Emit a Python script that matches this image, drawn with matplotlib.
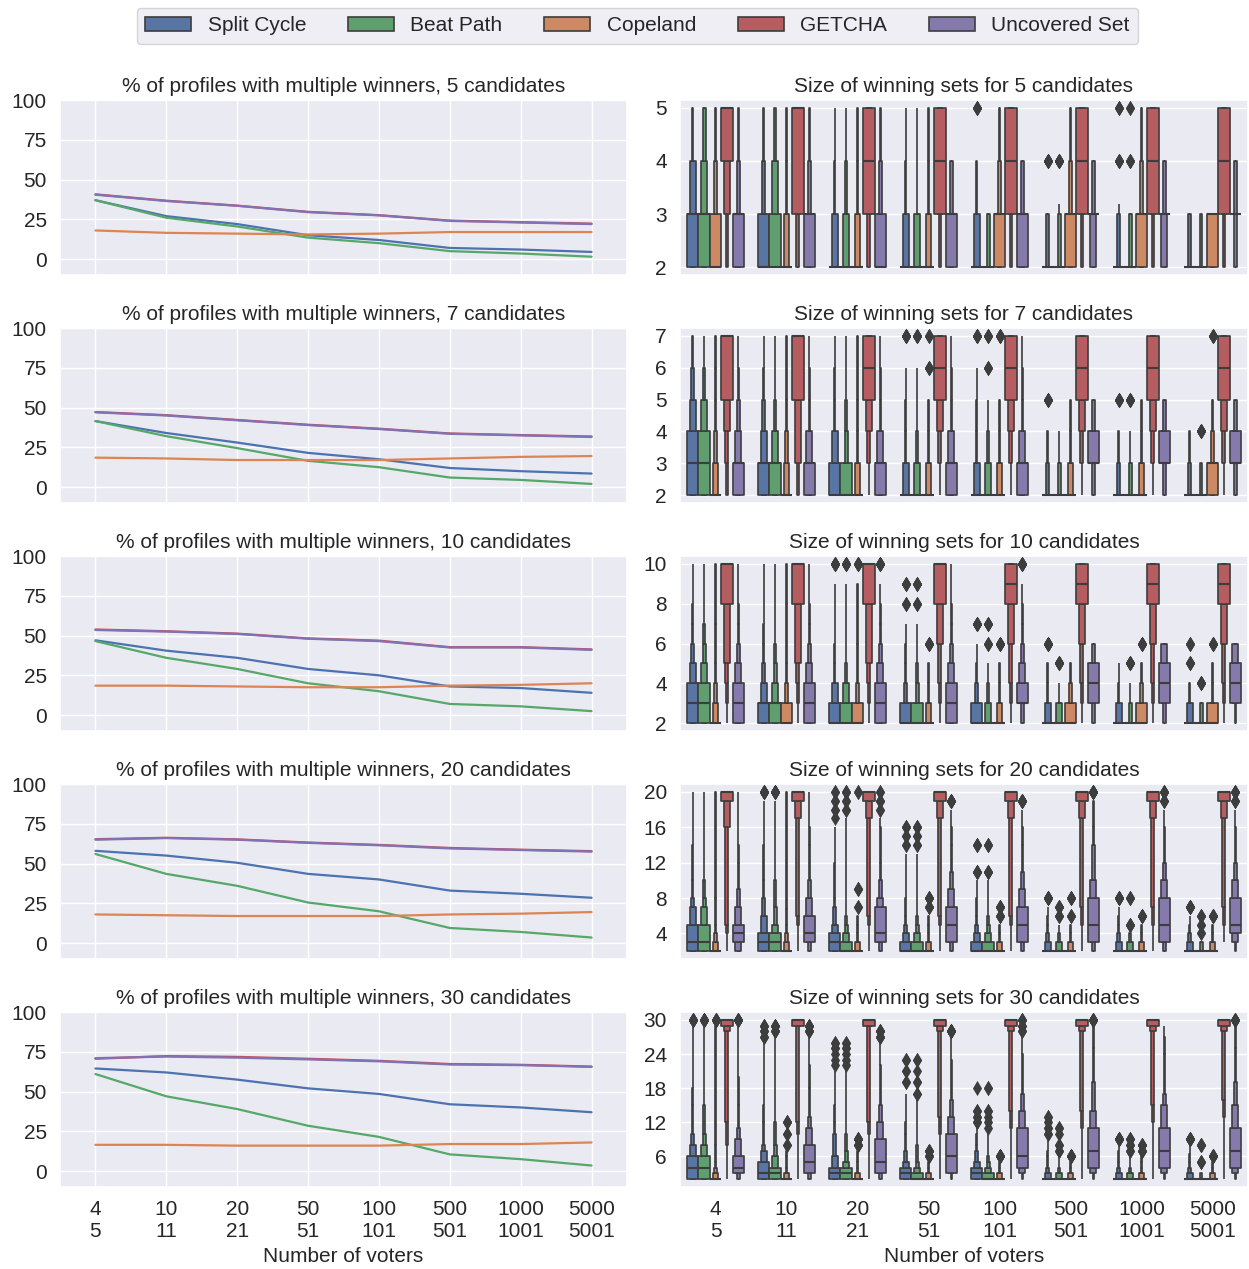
import numpy as np
import pandas as pd
import matplotlib
matplotlib.use("Agg")
import matplotlib.pyplot as plt
from matplotlib.patches import Patch
from matplotlib.collections import PatchCollection
import seaborn as sns

sns.set_theme(style="darkgrid")
plt.rcParams['font.family'] = ['Liberation Sans', 'DejaVu Sans']
plt.rcParams.update({'font.size': 15, 'axes.titlesize': 15, 'axes.labelsize': 15,
                     'xtick.labelsize': 15, 'ytick.labelsize': 15, 'legend.fontsize': 15})

voters = ["4\n5", "10\n11", "20\n21", "50\n51", "100\n101", "500\n501", "1000\n1001", "5000\n5001"]
methods = ["Split Cycle", "Beat Path", "Copeland", "GETCHA", "Uncovered Set"]
colors = ["#4C72B0", "#55A868", "#DD8452", "#C44E52", "#8172B3"]
candidates = [5, 7, 10, 20, 30]

# % of profiles with multiple winners
multi_5 = {
    "Split Cycle": [37, 27, 22, 15, 12, 7, 6, 4.5],
    "Beat Path": [37, 26, 20.5, 13.5, 10, 5, 3.5, 1.5],
    "Copeland": [18, 16.5, 16, 15.5, 16, 17, 17, 17],
    "GETCHA": [40.7, 36.7, 33.6, 29.7, 27.6, 24.2, 23.2, 22.3],
    "Uncovered Set": [40.5, 36.5, 33.5, 29.5, 27.5, 24, 23, 22],
}
multi_7 = {
    "Split Cycle": [41.5, 34, 28, 21.5, 17.5, 12, 10, 8.5],
    "Beat Path": [41.5, 32, 24.5, 16.5, 12.5, 6, 4.5, 2],
    "Copeland": [18.5, 18, 17, 17, 17, 18, 19, 19.5],
    "GETCHA": [47.2, 45.2, 42.2, 39.2, 36.7, 33.7, 32.7, 31.8],
    "Uncovered Set": [47, 45, 42, 39, 36.5, 33.5, 32.5, 31.5],
}
multi_10 = {
    "Split Cycle": [47, 40.5, 36, 29, 25, 18, 17, 14],
    "Beat Path": [46.5, 36, 29, 20, 15, 7, 5.5, 2.5],
    "Copeland": [18.5, 18.5, 18, 17.5, 17.5, 18.5, 19, 20],
    "GETCHA": [53.8, 52.7, 51.2, 48.2, 46.8, 42.7, 42.7, 41.3],
    "Uncovered Set": [53.5, 52.5, 51, 48, 46.5, 42.5, 42.5, 41],
}
multi_20 = {
    "Split Cycle": [58, 55, 50.5, 43.5, 40, 33, 31, 28.5],
    "Beat Path": [56, 43.5, 36, 25.5, 20, 9.5, 7, 3.5],
    "Copeland": [18, 17.5, 17, 17, 17, 18, 18.5, 19.5],
    "GETCHA": [65.3, 66.2, 65.2, 63.2, 61.7, 59.8, 58.7, 57.8],
    "Uncovered Set": [65, 66, 65, 63, 61.5, 59.5, 58.5, 57.5],
}
multi_30 = {
    "Split Cycle": [64.5, 62, 57.5, 52, 48.5, 42, 40, 37],
    "Beat Path": [61, 47, 39, 28.5, 21.5, 10.5, 7.5, 3.5],
    "Copeland": [16.5, 16.5, 16, 16, 16, 17, 17, 18],
    "GETCHA": [70.6, 72.3, 71.8, 70.6, 69.3, 67.3, 66.8, 65.7],
    "Uncovered Set": [71, 72, 71.3, 70.2, 69, 67, 66.6, 65.5],
}
multi = [multi_5, multi_7, multi_10, multi_20, multi_30]

# cumulative % of multi-winner profiles with at most k winners, {k: %}
sizes_5 = {
    "Split Cycle": [
        {2: 45, 3: 80, 4: 94, 5: 100}, {2: 52, 3: 88, 4: 97, 5: 100},
        {2: 78, 3: 95, 4: 99, 5: 100}, {2: 80, 3: 96, 4: 99, 5: 100},
        {2: 82, 3: 97, 4: 99.6, 5: 100}, {2: 90, 3: 99.4, 4: 100},
        {2: 91, 3: 99.2, 4: 99.7, 5: 100}, {2: 93, 3: 100}],
    "Beat Path": [
        {2: 44, 3: 79, 4: 93, 5: 100}, {2: 52, 3: 86, 4: 96, 5: 100},
        {2: 80, 3: 96, 4: 99, 5: 100}, {2: 82, 3: 97, 4: 99, 5: 100},
        {2: 90, 3: 100}, {2: 92, 3: 99.2, 4: 100},
        {2: 93, 3: 99.4, 4: 99.8, 5: 100}, {2: 95, 3: 100}],
    "Copeland": [
        {2: 55, 3: 90, 4: 97, 5: 100}, {2: 80, 3: 95, 4: 98.8, 5: 100},
        {2: 80, 3: 95, 4: 99, 5: 100}, {2: 78, 3: 95, 4: 99, 5: 100},
        {2: 45, 3: 92, 4: 98, 5: 100}, {2: 40, 3: 90, 4: 98, 5: 100},
        {2: 40, 3: 90, 4: 98, 5: 100}, {2: 40, 3: 100}],
    "GETCHA": [
        {2: 5, 3: 15, 4: 40, 5: 100}, {2: 10, 3: 30, 4: 48, 5: 100},
        {2: 8, 3: 30, 4: 60, 5: 100}, {2: 6, 3: 28, 4: 62, 5: 100},
        {2: 5, 3: 28, 4: 62, 5: 100}, {2: 5, 3: 28, 4: 63, 5: 100},
        {2: 4, 3: 28, 4: 63, 5: 100}, {2: 4, 3: 28, 4: 64, 5: 100}],
    "Uncovered Set": [
        {2: 45, 3: 90, 4: 97, 5: 100}, {2: 48, 3: 90, 4: 97, 5: 100},
        {2: 52, 3: 90, 4: 98, 5: 100}, {2: 45, 3: 93, 4: 100},
        {2: 40, 3: 93, 4: 100}, {2: 15, 3: 90, 4: 100},
        {2: 15, 3: 92, 4: 100}, {2: 12, 3: 92, 4: 100}],
}
sizes_7 = {
    "Split Cycle": [
        {2: 35, 3: 65, 4: 85, 5: 93.5, 6: 97.5, 7: 100},
        {2: 48, 3: 82, 4: 93, 5: 97, 6: 99, 7: 100},
        {2: 55, 3: 86, 4: 95, 5: 98, 6: 99, 7: 100},
        {2: 78, 3: 94, 4: 97.5, 5: 99, 6: 99.4, 7: 100},
        {2: 80, 3: 95, 4: 98, 5: 99.1, 6: 99.5, 7: 100},
        {2: 88, 3: 98, 4: 99.5, 5: 100},
        {2: 88, 3: 98, 4: 99.5, 5: 100},
        {2: 90, 3: 98, 4: 100}],
    "Beat Path": [
        {2: 36, 3: 66, 4: 86, 5: 94, 6: 97.5, 7: 100},
        {2: 49, 3: 84, 4: 94, 5: 97.5, 6: 99, 7: 100},
        {2: 58, 3: 88, 4: 96, 5: 98.5, 6: 99, 7: 100},
        {2: 80, 3: 95, 4: 98, 5: 99.1, 6: 99.5, 7: 100},
        {2: 82, 3: 96, 4: 98.7, 5: 99.3, 6: 99.6, 7: 100},
        {2: 92, 3: 98.5, 4: 100},
        {2: 92, 3: 98.5, 4: 99.4, 5: 100},
        {2: 95, 3: 99.4, 4: 100}],
    "Copeland": [
        {2: 78, 3: 92, 4: 96, 5: 98, 6: 99, 7: 100},
        {2: 80, 3: 93, 4: 97, 5: 98.5, 6: 99, 7: 100},
        {2: 80, 3: 94, 4: 97.5, 5: 98.8, 6: 99.1, 7: 100},
        {2: 78, 3: 94, 4: 98, 5: 99.3, 6: 99.7, 7: 100},
        {2: 78, 3: 94, 4: 98, 5: 99.5, 7: 100},
        {2: 78, 3: 95, 4: 98.5, 5: 100},
        {2: 78, 3: 95, 4: 98.5, 5: 100},
        {2: 45, 3: 90, 4: 97, 5: 99.5, 7: 100}],
    "GETCHA": [
        {2: 4, 3: 8, 4: 15, 5: 30, 6: 45, 7: 100},
        {2: 5, 3: 12.6, 4: 20, 5: 30, 6: 45, 7: 100},
        {2: 3, 3: 8, 4: 15, 5: 35, 6: 65, 7: 100},
        {2: 3, 3: 8, 4: 15, 5: 35, 6: 66, 7: 100},
        {2: 2.5, 3: 8, 4: 15, 5: 34, 6: 66, 7: 100},
        {2: 2.5, 3: 8, 4: 16, 5: 34, 6: 67, 7: 100},
        {2: 2.5, 3: 8, 4: 16, 5: 34, 6: 67, 7: 100},
        {2: 2.5, 3: 8, 4: 16, 5: 34, 6: 67, 7: 100}],
    "Uncovered Set": [
        {2: 45, 3: 80, 4: 92, 5: 96, 6: 98.5, 7: 100},
        {2: 48, 3: 83, 4: 94, 5: 97.5, 6: 99, 7: 100},
        {2: 45, 3: 85, 4: 94, 5: 97.5, 6: 99, 7: 100},
        {2: 40, 3: 85, 4: 95, 5: 98, 6: 99, 7: 100},
        {2: 38, 3: 84, 4: 95, 5: 98, 6: 99, 7: 100},
        {2: 10, 3: 55, 4: 90, 5: 100},
        {2: 10, 3: 55, 4: 90, 5: 100},
        {2: 8, 3: 52, 4: 90, 5: 100}],
}
sizes_10 = {
    "Split Cycle": [
        {2: 35, 3: 62, 4: 84, 5: 92, 6: 96, 7: 98, 8: 98.8, 9: 99.1, 10: 100},
        {2: 48, 3: 80, 4: 92, 5: 96, 6: 98, 7: 98.7, 8: 99, 9: 99.1, 10: 100},
        {2: 55, 3: 85, 4: 94, 5: 97, 6: 98.5, 7: 99, 8: 99.1, 9: 99.3, 10: 100},
        {2: 60, 3: 88, 4: 95, 5: 98, 6: 99, 7: 99.3, 8: 99.6, 9: 100},
        {2: 60, 3: 90, 4: 97, 5: 98.8, 6: 99.4, 7: 100},
        {2: 78, 3: 94, 4: 98, 5: 99.3, 6: 100},
        {2: 78, 3: 95, 4: 98.5, 5: 100},
        {2: 78, 3: 96, 4: 99.3, 5: 99.7, 6: 100}],
    "Beat Path": [
        {2: 36, 3: 63, 4: 84, 5: 92, 6: 96, 7: 98, 8: 98.8, 9: 99.1, 10: 100},
        {2: 49, 3: 82, 4: 93, 5: 96.5, 6: 98, 7: 98.7, 8: 99, 9: 99.1, 10: 100},
        {2: 58, 3: 87, 4: 95, 5: 97.5, 6: 98.5, 7: 99, 8: 99.1, 9: 99.3, 10: 100},
        {2: 62, 3: 90, 4: 96, 5: 98.5, 6: 99, 7: 99.3, 8: 99.6, 9: 100},
        {2: 78, 3: 96, 4: 98.7, 5: 99.3, 6: 99.6, 7: 100},
        {2: 82, 3: 97, 4: 99.3, 5: 100},
        {2: 88, 3: 97, 4: 99.4, 5: 100},
        {2: 93, 3: 99.5, 4: 100}],
    "Copeland": [
        {2: 78, 3: 92, 4: 96, 5: 97.5, 6: 98.3, 7: 98.7, 8: 98.9, 9: 99.1, 10: 100},
        {2: 70, 3: 92, 4: 96, 5: 97.5, 6: 98.3, 8: 98.9, 9: 99.1, 10: 100},
        {2: 72, 3: 93, 4: 97, 5: 98, 6: 98.7, 7: 99, 8: 99.1, 9: 99.3, 10: 100},
        {2: 78, 3: 95, 4: 98.5, 5: 99.4, 6: 100},
        {2: 78, 3: 95, 4: 98.5, 5: 99.4, 6: 100},
        {2: 72, 3: 93, 4: 98, 5: 100},
        {2: 72, 3: 93, 4: 98, 5: 99.4, 6: 100},
        {2: 72, 3: 94, 4: 98, 5: 99.4, 6: 100}],
    "GETCHA": [
        {2: 3, 3: 5, 4: 8, 5: 13, 6: 17, 7: 21, 8: 30, 9: 45, 10: 100},
        {2: 3, 3: 5, 4: 8, 5: 13, 6: 17, 7: 21, 8: 30, 9: 46, 10: 100},
        {2: 2, 3: 5, 4: 8, 5: 13, 6: 17, 7: 21, 8: 29, 9: 47, 10: 100},
        {2: 2, 3: 4, 4: 7, 5: 12, 6: 17, 7: 21, 8: 28, 9: 48, 10: 100},
        {2: 1.5, 3: 3.5, 4: 6.5, 5: 12, 6: 16, 7: 20, 8: 27, 9: 55, 10: 100},
        {2: 1.5, 3: 3.5, 4: 6.5, 5: 12, 6: 16, 7: 20, 8: 27, 9: 55, 10: 100},
        {2: 1.5, 3: 3.5, 4: 6.5, 5: 12, 6: 16, 7: 20, 8: 27, 9: 55, 10: 100},
        {2: 1.5, 3: 3.5, 4: 6.5, 5: 12, 6: 16, 7: 20, 8: 27, 9: 55, 10: 100}],
    "Uncovered Set": [
        {2: 30, 3: 62, 4: 84, 5: 92, 6: 96.5, 7: 98, 8: 98.8, 9: 99.1, 10: 100},
        {2: 33, 3: 64, 4: 85, 5: 93, 6: 96.5, 7: 98, 8: 98.8, 9: 99.1, 10: 100},
        {2: 33, 3: 64, 4: 85, 5: 93, 6: 96.5, 7: 98, 8: 99, 9: 99.3, 10: 100},
        {2: 33, 3: 64, 4: 84, 5: 93, 6: 96.5, 7: 98, 8: 98.8, 9: 99.1, 10: 100},
        {2: 12, 3: 55, 4: 80, 5: 92, 6: 96, 7: 98, 8: 98.8, 9: 99.3, 10: 100},
        {2: 8, 3: 48, 4: 68, 5: 88, 6: 100},
        {2: 8, 3: 45, 4: 65, 5: 87, 6: 100},
        {2: 5, 3: 30, 4: 55, 5: 85, 6: 100}],
}
sizes_20 = {
    "Split Cycle": [
        {2: 30, 3: 52, 4: 66, 5: 78, 6: 84, 7: 90, 8: 94, 9: 96, 10: 97, 12: 98, 14: 98.5, 16: 98.8, 18: 99.1, 20: 100},
        {2: 35, 3: 60, 4: 77, 5: 84, 6: 88, 7: 92, 8: 94.5, 10: 97, 12: 98, 14: 98.7, 16: 99, 19: 99.3, 20: 100},
        {2: 38, 3: 62, 4: 80, 5: 88, 6: 93, 7: 95.5, 8: 97, 10: 98.3, 12: 98.8, 14: 99.1, 16: 99.3, 17: 99.4, 18: 99.6, 19: 99.8, 20: 100},
        {2: 55, 3: 82, 4: 91, 5: 95, 6: 97, 8: 98.5, 10: 98.9, 13: 99.3, 14: 99.5, 15: 99.7, 16: 100},
        {2: 58, 3: 84, 4: 92, 5: 96, 6: 97.8, 8: 98.8, 10: 99.3, 11: 99.7, 14: 100},
        {2: 76, 3: 92, 4: 96, 5: 98, 6: 98.8, 7: 99.4, 8: 100},
        {2: 78, 3: 93, 4: 96.5, 5: 98.2, 6: 98.9, 7: 99.4, 8: 100},
        {2: 78, 3: 93, 4: 97, 5: 98.5, 6: 99.3, 7: 100}],
    "Beat Path": [
        {2: 28, 3: 52, 4: 66, 5: 78, 6: 84, 7: 90, 8: 94, 9: 96, 10: 97, 12: 98, 14: 98.5, 16: 98.8, 18: 99.1, 20: 100},
        {2: 36, 3: 62, 4: 78, 5: 88, 6: 92, 7: 94, 8: 95.5, 10: 97.5, 12: 98.3, 14: 98.8, 16: 99, 19: 99.3, 20: 100},
        {2: 55, 3: 82, 4: 91, 5: 95, 6: 97, 8: 98.3, 10: 98.7, 14: 99, 17: 99.3, 18: 99.5, 19: 99.7, 20: 100},
        {2: 58, 3: 84, 4: 92, 5: 96, 6: 97.5, 8: 98.6, 10: 99, 13: 99.3, 14: 99.5, 15: 99.7, 16: 100},
        {2: 60, 3: 86, 4: 93, 5: 96.5, 6: 98, 8: 98.9, 10: 99.3, 11: 99.7, 14: 100},
        {2: 82, 3: 96, 4: 98.2, 5: 99.3, 6: 99.6, 7: 100},
        {2: 84, 3: 96, 4: 99.3, 5: 99.7, 8: 100},
        {2: 92, 3: 99.3, 4: 99.5, 5: 99.7, 6: 100}],
    "Copeland": [
        {2: 80, 3: 92, 4: 96, 5: 97.5, 6: 98.2, 8: 98.7, 10: 99, 14: 99.1, 20: 100},
        {2: 80, 3: 93, 4: 96.5, 5: 97.8, 6: 98.4, 8: 98.8, 12: 99.1, 20: 100},
        {2: 82, 3: 95, 4: 98, 5: 99, 6: 99.3, 7: 99.5, 9: 99.8, 20: 100},
        {2: 80, 3: 95, 4: 98, 5: 99, 6: 99.3, 7: 99.6, 8: 100},
        {2: 80, 3: 95, 4: 98.3, 5: 99.3, 6: 99.6, 7: 100},
        {2: 78, 3: 95, 4: 98.3, 5: 99.3, 6: 99.6, 8: 100},
        {2: 78, 3: 95, 4: 98.3, 5: 99.4, 6: 100},
        {2: 76, 3: 95, 4: 98.3, 5: 99.4, 6: 100}],
    "GETCHA": [
        {2: 1, 3: 2, 4: 3.5, 5: 7, 8: 9, 12: 10.5, 16: 13, 17: 16, 18: 20, 19: 30, 20: 100},
        {2: 1, 3: 2, 4: 3, 5: 4.5, 6: 7, 10: 9, 14: 11, 16: 12.4, 17: 16, 18: 20, 19: 32, 20: 100},
        {2: 1, 3: 2, 4: 3, 5: 4.5, 6: 7, 10: 9, 14: 11, 16: 12.4, 17: 16, 18: 20, 19: 32, 20: 100},
        {2: 1, 3: 2, 4: 3, 5: 4.5, 6: 7, 10: 9, 14: 11, 16: 12.4, 17: 16, 18: 20, 19: 32, 20: 100},
        {2: 1, 3: 2, 4: 3, 5: 4.5, 6: 7, 10: 9, 14: 11, 16: 12.4, 17: 16, 18: 20, 19: 32, 20: 100},
        {2: 1, 3: 1.8, 4: 2.5, 5: 3.5, 6: 5, 7: 7, 10: 9, 14: 11, 16: 12.4, 17: 16, 18: 20, 19: 33, 20: 100},
        {2: 1, 3: 1.8, 4: 2.5, 5: 3.5, 6: 5, 7: 7, 10: 9, 14: 11, 16: 12.4, 17: 16, 18: 20, 19: 33, 20: 100},
        {3: 1, 4: 2, 5: 3.5, 6: 5, 7: 7, 10: 9, 14: 11, 16: 12.4, 17: 16, 18: 20, 19: 33, 20: 100}],
    "Uncovered Set": [
        {2: 15, 3: 40, 4: 62, 5: 80, 6: 86, 7: 90, 8: 93, 9: 95, 10: 96.5, 12: 98, 14: 98.6, 16: 99, 18: 99.1, 20: 100},
        {2: 12, 3: 35, 4: 55, 5: 68, 6: 78, 7: 84, 8: 88, 9: 92, 10: 94, 12: 96.5, 14: 98, 16: 98.8, 18: 99.1, 20: 100},
        {2: 12, 3: 35, 4: 52, 5: 63, 6: 72, 7: 80, 8: 88, 9: 92, 10: 94.5, 12: 97, 14: 98.3, 16: 99, 17: 99.3, 18: 99.5, 19: 99.8, 20: 100},
        {2: 8, 3: 28, 4: 44, 5: 56, 6: 67, 7: 77, 8: 85, 9: 90, 10: 93, 11: 95, 12: 96.5, 14: 98, 16: 98.8, 18: 99.3, 19: 100},
        {2: 8, 3: 28, 4: 44, 5: 56, 6: 67, 7: 76, 8: 84, 9: 89, 10: 92.5, 11: 94.5, 12: 96, 14: 97.8, 16: 98.8, 18: 99.3, 19: 100},
        {2: 7, 3: 26, 4: 41, 5: 53, 6: 63, 7: 71, 8: 78, 9: 84, 10: 88, 11: 91, 12: 93.5, 14: 96.5, 16: 98.3, 19: 99.3, 20: 100},
        {2: 7, 3: 26, 4: 41, 5: 53, 6: 63, 7: 71, 8: 78, 9: 84, 10: 88, 11: 91, 12: 94, 14: 96.5, 16: 98.5, 18: 99.3, 19: 99.6, 20: 100},
        {2: 3, 3: 13, 4: 32, 5: 52, 6: 63, 7: 71, 8: 78, 9: 84, 10: 88, 11: 91, 12: 94, 14: 96.5, 16: 98.5, 18: 99.3, 19: 99.6, 20: 100}],
}
sizes_30 = {
    "Split Cycle": [
        {2: 27, 3: 42, 4: 55, 5: 68, 6: 78, 7: 84, 8: 89, 9: 92, 10: 94.5, 12: 96.5, 15: 98, 18: 98.6, 22: 98.9, 26: 99.1, 29: 99.3, 30: 100},
        {2: 32, 3: 52, 4: 66, 5: 78, 6: 84, 7: 88, 8: 94, 9: 95.5, 10: 96.5, 12: 97.8, 15: 98.5, 20: 99, 26: 99.3, 27: 99.5, 28: 99.7, 29: 100},
        {2: 38, 3: 60, 4: 76, 5: 84, 6: 88, 7: 91, 8: 93.5, 10: 96, 12: 97.5, 15: 98.5, 18: 99, 21: 99.3, 22: 99.4, 23: 99.5, 24: 99.6, 25: 99.8, 26: 100},
        {2: 42, 3: 64, 4: 78, 5: 88, 6: 92, 7: 94.5, 8: 96, 10: 97.8, 12: 98.6, 14: 99, 17: 99.4, 19: 99.6, 21: 99.8, 23: 100},
        {2: 45, 3: 66, 4: 80, 5: 88.5, 6: 93, 7: 95.5, 8: 97, 9: 98, 10: 98.8, 11: 99.3, 12: 99.5, 13: 99.7, 14: 99.9, 18: 100},
        {2: 76, 3: 90, 4: 94.5, 5: 96.5, 6: 97.8, 7: 98.5, 8: 99, 9: 99.3, 10: 99.5, 11: 99.7, 12: 99.8, 13: 100},
        {2: 78, 3: 92, 4: 95.5, 5: 97, 6: 98, 7: 98.7, 8: 99.3, 9: 100},
        {2: 80, 3: 93, 4: 96, 5: 97.5, 6: 98.4, 7: 98.9, 8: 99.3, 9: 100}],
    "Beat Path": [
        {2: 27, 3: 42, 4: 55, 5: 68, 6: 78, 7: 84, 8: 89, 9: 92, 10: 94.5, 12: 96.5, 15: 98, 18: 98.6, 22: 98.9, 26: 99.1, 29: 99.3, 30: 100},
        {2: 33, 3: 58, 4: 76, 5: 83, 6: 88, 7: 91, 8: 94, 10: 96.3, 12: 97.5, 15: 98.3, 20: 99, 27: 99.3, 28: 99.6, 29: 100},
        {2: 40, 3: 62, 4: 80, 5: 88, 6: 91.5, 7: 94, 8: 95.5, 10: 97.3, 12: 98.3, 15: 98.9, 21: 99.3, 22: 99.4, 23: 99.5, 24: 99.6, 25: 99.8, 26: 100},
        {2: 55, 3: 80, 4: 90, 5: 94, 6: 96, 8: 97.8, 10: 98.5, 13: 99, 16: 99.3, 17: 99.5, 19: 99.7, 21: 99.8, 23: 100},
        {2: 60, 3: 84, 4: 92, 5: 95.5, 6: 97.3, 7: 98.3, 8: 98.8, 10: 99.3, 11: 99.4, 12: 99.5, 13: 99.6, 14: 99.8, 18: 100},
        {2: 86, 3: 95, 4: 97.5, 5: 98.6, 6: 99.3, 7: 99.5, 8: 99.7, 10: 99.8, 11: 100},
        {2: 87, 3: 95.5, 4: 97.8, 5: 98.7, 6: 99.3, 7: 99.5, 8: 99.7, 9: 100},
        {2: 96, 3: 99.3, 5: 99.6, 8: 100}],
    "Copeland": [
        {2: 80, 3: 92, 4: 96, 5: 97.5, 6: 98.3, 8: 98.7, 12: 99, 20: 99.1, 29: 99.3, 30: 100},
        {2: 80, 3: 94, 4: 97, 5: 98.3, 6: 99, 7: 99.3, 8: 99.5, 10: 99.7, 12: 100},
        {2: 82, 3: 95, 4: 97.8, 5: 98.7, 6: 99.1, 7: 99.3, 8: 99.6, 9: 100},
        {2: 80, 3: 95, 4: 98, 5: 99.3, 6: 99.6, 7: 100},
        {2: 80, 3: 95, 4: 98.3, 5: 99.4, 6: 100},
        {2: 78, 3: 95, 4: 98.3, 5: 99.4, 6: 100},
        {2: 78, 3: 95, 4: 98, 5: 99, 6: 99.3, 7: 99.6, 8: 100},
        {2: 76, 3: 95, 4: 98.3, 5: 99.4, 6: 100}],
    "GETCHA": [
        {2: 1, 3: 1.5, 5: 2.5, 8: 3.5, 10: 5, 12: 7, 16: 9, 20: 10.5, 24: 11.5, 27: 12.4, 28: 24, 29: 40, 30: 100},
        {2: 1, 3: 1.5, 5: 2.2, 8: 3, 10: 4.5, 12: 7, 16: 9, 20: 10.5, 24: 11.5, 28: 12.4, 29: 30, 30: 100},
        {2: 1, 3: 1.5, 5: 2.2, 8: 3, 10: 4.5, 12: 7, 16: 9, 20: 10.5, 24: 11.5, 28: 12.4, 29: 30, 30: 100},
        {2: 1, 3: 1.5, 5: 2.2, 8: 3, 10: 4.5, 13: 7, 16: 9, 20: 10.5, 24: 11.5, 27: 12.3, 28: 14, 29: 30, 30: 100},
        {2: 1, 3: 1.5, 5: 2.2, 8: 3, 11: 4.5, 14: 7, 18: 9, 22: 10.5, 25: 11.5, 27: 12.3, 28: 14, 29: 30, 30: 100},
        {2: 1, 3: 1.5, 5: 2.2, 8: 3, 11: 4.5, 14: 7, 18: 9, 22: 10.5, 25: 11.5, 27: 12.3, 28: 14, 29: 30, 30: 100},
        {2: 1, 3: 1.5, 5: 2.2, 8: 3, 12: 4.5, 15: 7, 18: 9, 22: 10.5, 25: 11.5, 27: 12.3, 28: 14, 29: 30, 30: 100},
        {2: 1, 3: 1.5, 5: 2.2, 8: 3, 13: 4.5, 16: 7, 19: 9, 22: 10.5, 25: 11.5, 27: 12.3, 28: 14, 29: 30, 30: 100}],
    "Uncovered Set": [
        {2: 12, 3: 32, 4: 52, 5: 66, 6: 77, 7: 83, 8: 86, 9: 89, 10: 92, 11: 94, 12: 95.5, 15: 97.5, 20: 98.6, 25: 99, 29: 99.3, 30: 100},
        {2: 8, 3: 26, 4: 40, 5: 52, 6: 62, 7: 70, 8: 77, 9: 82, 10: 86, 11: 89, 12: 92, 13: 94, 15: 96, 18: 97.5, 22: 98.6, 27: 99.3, 28: 99.6, 29: 100},
        {2: 8, 3: 26, 4: 39, 5: 51, 6: 60, 7: 67, 8: 73, 9: 78, 10: 82, 11: 85.5, 12: 88, 13: 91, 15: 94, 18: 96.5, 22: 98.5, 26: 99.3, 27: 99.6, 28: 100},
        {2: 6, 3: 26, 4: 37, 5: 46, 6: 55, 7: 62, 8: 68, 9: 72, 10: 76, 11: 81, 12: 85, 13: 88, 14: 90.5, 16: 94, 19: 96.5, 23: 98.5, 27: 99.3, 28: 100},
        {2: 3, 3: 14, 4: 27, 5: 40, 6: 52, 7: 60, 8: 66, 9: 70, 10: 73.5, 11: 77, 12: 81, 13: 85, 14: 88, 15: 90.5, 17: 94, 20: 96.5, 24: 98.5, 27: 99.3, 28: 99.5, 29: 99.7, 30: 100},
        {2: 3, 3: 14, 4: 27, 5: 37, 6: 45, 7: 53, 8: 60, 9: 66, 10: 71, 11: 76, 12: 80, 13: 84, 14: 88, 15: 90.5, 17: 93, 19: 94.5, 22: 96.5, 25: 98.3, 29: 99.3, 30: 100},
        {2: 3, 3: 14, 4: 27, 5: 37, 6: 45, 7: 53, 8: 60, 9: 66, 10: 71, 11: 76, 12: 80, 13: 83.5, 14: 86.5, 15: 89, 17: 94, 20: 96.5, 24: 98.3, 27: 99, 29: 100},
        {2: 3, 3: 13, 4: 26, 5: 36, 6: 44, 7: 52, 8: 59, 9: 65, 10: 70.5, 11: 76, 12: 80, 13: 83.5, 14: 86.5, 15: 89, 17: 92.5, 19: 94.5, 22: 96.5, 25: 98.3, 29: 99.3, 30: 100}],
}
sizes = [sizes_5, sizes_7, sizes_10, sizes_20, sizes_30]
size_ticks = [[2, 3, 4, 5], [2, 3, 4, 5, 6, 7], [2, 4, 6, 8, 10],
              [4, 8, 12, 16, 20], [6, 12, 18, 24, 30]]


def expand(cum):
    # 1000 profiles per box, built from the cumulative shares
    k = np.array(list(cum.keys()))
    share = np.diff(np.concatenate([[0.0], np.array(list(cum.values()), dtype=float)]))
    return np.repeat(k, np.round(share * 10).astype(int))


W, H = 1249, 1269
fig = plt.figure(figsize=(W / 100, H / 100), dpi=100)
edge = "#3d3d3d"

for i, m in enumerate(candidates):
    top = 100 + 228 * i
    bottom = 1 - (top + 175) / H
    ax_l = fig.add_axes([60 / W, bottom, 567 / W, 175 / H])
    ax_r = fig.add_axes([680 / W, bottom, 568 / W, 175 / H])

    for meth, col in zip(methods, colors):
        ax_l.plot(voters, multi[i][meth], color=col, lw=1.6)
    ax_l.set_xlim(-0.5, 7.5)
    ax_l.set_ylim(-10, 100)
    ax_l.set_yticks([0, 25, 50, 75, 100])
    ax_l.set_title(f"% of profiles with multiple winners, {m} candidates")

    rows = []
    for meth in methods:
        for v, cum in zip(voters, sizes[i][meth]):
            for s in expand(cum):
                rows.append((v, meth, s))
    df = pd.DataFrame(rows, columns=["voters", "method", "winners"])
    sns.boxenplot(data=df, x="voters", y="winners", hue="method", order=voters,
                  hue_order=methods, palette=colors, ax=ax_r, legend=False,
                  linewidth=1.2, linecolor=edge,
                  flier_kws=dict(marker="d", s=60, facecolor=edge, edgecolor=edge, linewidth=0))
    # one flat colour per box group, like the original
    for coll in ax_r.collections:
        if isinstance(coll, PatchCollection):
            fc = coll.get_facecolor()
            if len(fc):
                coll.set_facecolor(fc[np.argmin(fc[:, :3].sum(axis=1))])
    ax_r.set_yticks(size_ticks[i])
    ax_r.set_ylabel("")
    ax_r.set_title(f"Size of winning sets for {m} candidates")

    for ax in (ax_l, ax_r):
        if i < len(candidates) - 1:
            ax.tick_params(labelbottom=False)
            ax.set_xlabel("")
        else:
            ax.set_xlabel("Number of voters")

handles = [Patch(facecolor=sns.desaturate(c, 0.75), edgecolor=edge, linewidth=1.2) for c in colors]
fig.legend(handles, methods, loc="upper center", bbox_to_anchor=(637.5 / W, 1 - 8 / H),
           borderaxespad=0, ncol=5, columnspacing=2.0, handlelength=2.2)

fig.savefig("out.png", dpi=100)
